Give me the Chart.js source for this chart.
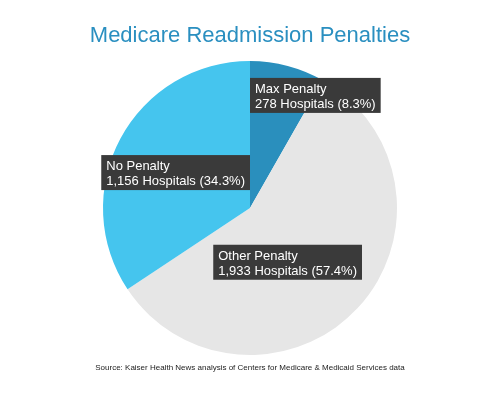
<!DOCTYPE html>
<html><head><meta charset="utf-8">
<script src="https://cdn.jsdelivr.net/npm/chart.js@4"></script>
<style>html,body{margin:0;padding:0;background:#fff}#w{width:500px;height:405px}</style>
</head><body><div id="w"><canvas id="c"></canvas></div>
<script>
const categories = ["Max Penalty", "Other Penalty", "No Penalty"];
const hospitals = [278, 1933, 1156];
const percents = [8.3, 57.4, 34.3];
const colors = ["#2a8fbd", "#e6e6e6", "#45c5ee"];
// label box anchor: [dx, dy, alignRight] relative to center, in radius units
const labelAnchors = [[0, -0.885, false], [-0.25, 0.25, false], [0, -0.36, true]];

const fmt = n => n.toLocaleString('en-US');
const labelPlugin = {
  id: 'boxes',
  afterDraw(chart) {
    const ctx = chart.ctx;
    const arc = chart.getDatasetMeta(0).data[0];
    const cx = arc.x, cy = arc.y, r = arc.outerRadius;
    ctx.save();
    ctx.font = '13px "Liberation Sans", Arial, sans-serif';
    categories.forEach((c, i) => {
      const l1 = c, l2 = fmt(hospitals[i]) + ' Hospitals (' + percents[i] + '%)';
      const w = Math.max(ctx.measureText(l1).width, ctx.measureText(l2).width) + 10;
      const h = 35;
      const a = labelAnchors[i];
      let x = cx + a[0] * r, y = cy + a[1] * r;
      if (a[2]) x -= w;
      ctx.fillStyle = '#3a3a3a';
      ctx.fillRect(x, y, w, h);
      ctx.fillStyle = '#fff';
      ctx.textBaseline = 'alphabetic';
      ctx.fillText(l1, x + 5, y + 15);
      ctx.fillText(l2, x + 5, y + 30);
    });
    ctx.fillStyle = '#2a8fc0';
    ctx.textAlign = 'center';
    ctx.font = '22px "Liberation Sans", Arial, sans-serif';
    ctx.fillText('Medicare Readmission Penalties', 250, 42);
    ctx.fillStyle = '#222';
    ctx.font = '8px "Liberation Sans", Arial, sans-serif';
    ctx.fillText('Source: Kaiser Health News analysis of Centers for Medicare & Medicaid Services data', 250, 370);
    ctx.restore();
  }
};
new Chart(document.getElementById('c'), {
  type: 'pie',
  data: { labels: categories, datasets: [{ data: hospitals, backgroundColor: colors, borderWidth: 0 }] },
  options: {
    responsive: true, maintainAspectRatio: false, animation: false,
    layout: { padding: { top: 61, bottom: 50 } },
    plugins: { legend: { display: false }, tooltip: { enabled: false } }
  },
  plugins: [labelPlugin]
});
</script></body></html>
